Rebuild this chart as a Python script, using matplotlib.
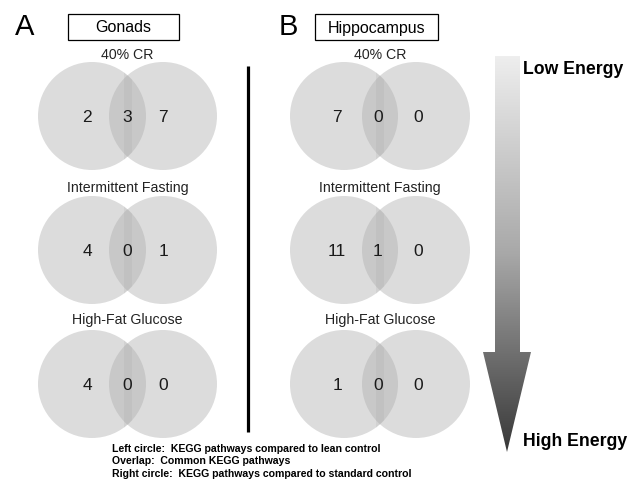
import numpy as np
import matplotlib
matplotlib.use("Agg")
import matplotlib.pyplot as plt
from matplotlib.patches import Circle, Rectangle, Polygon

plt.rcParams['font.family'] = ['Liberation Sans', 'DejaVu Sans']

# counts of KEGG pathways: left only, overlap, right only
diets = ["40% CR", "Intermittent Fasting", "High-Fat Glucose"]
gonads_left = [2, 4, 4]
gonads_overlap = [3, 0, 0]
gonads_right = [7, 1, 0]
hippo_left = [7, 11, 1]
hippo_overlap = [0, 1, 0]
hippo_right = [0, 0, 0]

panel_letters = ["A", "B"]
panel_titles = ["Gonads", "Hippocampus"]
legend_lines = [
    "Left circle:  KEGG pathways compared to lean control",
    "Overlap:  Common KEGG pathways",
    "Right circle:  KEGG pathways compared to standard control",
]

# layout in pixel units
W, H = 628, 481
row_y = [117, 251, 385]
label_y = [55, 188, 320]
R = 54
panels = [
    dict(cx=(92, 163), nx=(87, 127.5, 163), box=(68, 15, 111, 26), letter=(25, 27),
         data=(gonads_left, gonads_overlap, gonads_right)),
    dict(cx=(344, 416), nx=(337, 378, 418), box=(315, 15, 123, 26), letter=(288, 27),
         data=(hippo_left, hippo_overlap, hippo_right)),
]

fig = plt.figure(figsize=(W / 100, H / 100), dpi=100)
ax = fig.add_axes([0, 0, 1, 1])
ax.set_xlim(0, W)
ax.set_ylim(H, 0)
ax.axis("off")

for p, letter, title in zip(panels, panel_letters, panel_titles):
    lx, ly = p["letter"]
    ax.text(lx, ly, letter, fontsize=21, ha="center", va="center")
    bx, by, bw, bh = p["box"]
    ax.add_patch(Rectangle((bx, by), bw, bh, fill=False, ec="black", lw=0.9))
    ax.text(bx + bw / 2, by + bh / 2, title, fontsize=11.5, ha="center", va="center")
    left, over, right = p["data"]
    c1, c2 = p["cx"]
    for i, diet in enumerate(diets):
        y = row_y[i]
        ax.text((c1 + c2) / 2, label_y[i], diet, fontsize=10.2, ha="center", va="center",
                color="#222222")
        circ1 = Circle((c1, y), R, fc="#aeaeae", ec="none", alpha=0.43)
        circ2 = Circle((c2, y), R, fc="#aeaeae", ec="none", alpha=0.43)
        ax.add_patch(circ1)
        ax.add_patch(circ2)
        # darker stripe down the middle of the overlap
        mid = (c1 + c2) / 2
        stripe = Rectangle((mid - 4, y - R), 8, 2 * R, fc="#999999", ec="none", alpha=0.15)
        ax.add_patch(stripe)
        clip = Circle((c1, y), R, transform=ax.transData)
        stripe.set_clip_path(clip)
        for xv, v in zip(p["nx"], (left[i], over[i], right[i])):
            ax.text(xv, y + 1, str(v), fontsize=12.5, ha="center", va="center", color="#1a1a1a")

# separator line
ax.plot([248, 248], [67, 433], color="black", lw=2.3, solid_capstyle="butt")

# gradient arrow
arrow_pts = [(495, 57), (520, 57), (520, 353), (531, 353), (507, 453), (483, 353), (495, 353)]
arrow = Polygon(arrow_pts, closed=True, fc="none", ec="none")
ax.add_patch(arrow)
grad = np.linspace(0, 1, 256).reshape(-1, 1)
cmap = matplotlib.colors.LinearSegmentedColormap.from_list("g", ["#eeeeee", "#a8a8a8", "#383838"])
im = ax.imshow(grad, cmap=cmap, extent=(480, 534, 453, 57), aspect="auto", zorder=2)
im.set_clip_path(arrow)

ax.text(523, 70, "Low Energy", fontsize=12.7, fontweight="bold", ha="left", va="center")
ax.text(523, 442, "High Energy", fontsize=12.7, fontweight="bold", ha="left", va="center")

for i, line in enumerate(legend_lines):
    ax.text(112, 449 + 12.5 * i, line, fontsize=7.6, fontweight="bold", ha="left", va="center")

fig.savefig("out.png", dpi=100)
